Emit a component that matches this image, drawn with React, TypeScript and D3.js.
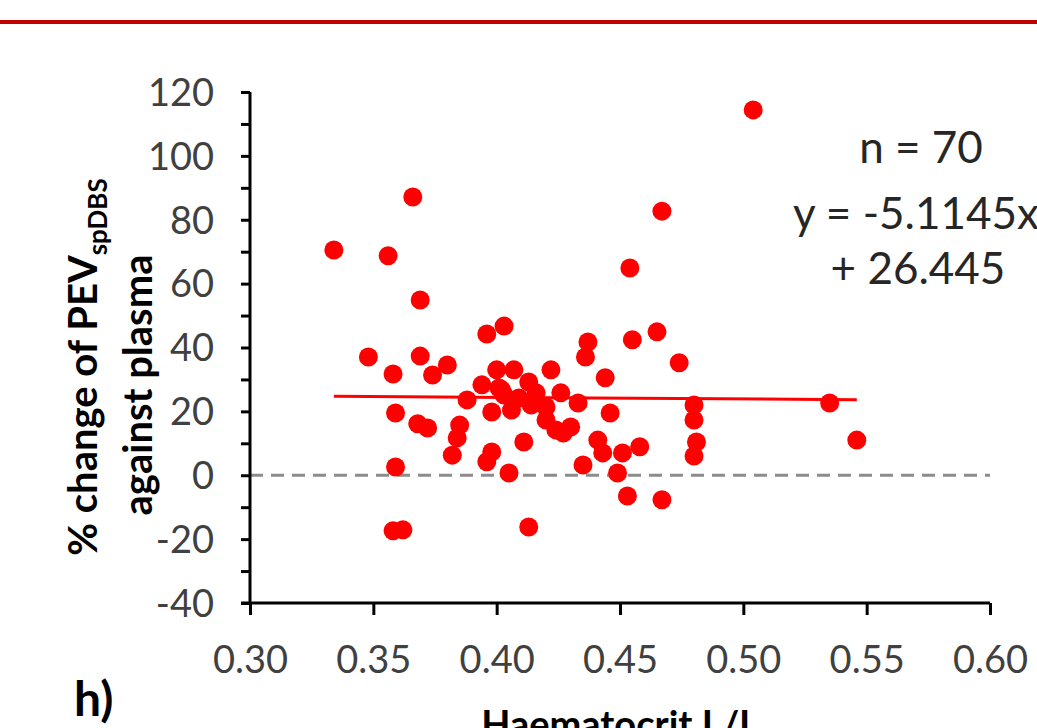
import { useEffect, useRef } from "react";
import * as d3 from "d3";

// haematocrit (L/L) for each sample
const hct = [
  0.334, 0.356, 0.366, 0.369, 0.348, 0.369, 0.380, 0.374, 0.358, 0.359,
  0.368, 0.372, 0.359, 0.358, 0.362, 0.388, 0.394, 0.396, 0.403, 0.385,
  0.384, 0.382, 0.396, 0.398, 0.398, 0.400, 0.407, 0.402, 0.406, 0.405,
  0.413, 0.411, 0.413, 0.416, 0.420, 0.422, 0.420, 0.426, 0.433, 0.430,
  0.427, 0.435, 0.437, 0.436, 0.444, 0.446, 0.441, 0.443, 0.451, 0.458,
  0.449, 0.453, 0.454, 0.455, 0.465, 0.467, 0.467, 0.474, 0.480, 0.480,
  0.481, 0.480, 0.504, 0.535, 0.546, 0.401, 0.409, 0.414, 0.424, 0.403,
];
// % change of PEV spDBS against plasma
const pctChange = [
  70.5, 68.7, 87.1, 54.9, 37.0, 37.3, 34.5, 31.4, 31.7, 19.5,
  16.1, 14.8, 2.6, -17.4, -17.1, 23.6, 28.3, 44.2, 46.7, 15.7,
  11.7, 6.3, 4.2, 7.3, 19.8, 33.0, 33.0, 26.7, 20.4, 0.7,
  29.2, 10.4, -16.2, 25.8, 17.3, 33.0, 21.4, 25.8, 22.6, 15.1,
  13.2, 3.2, 41.7, 37.0, 30.5, 19.5, 11.0, 7.0, 7.0, 8.9,
  0.7, -6.5, 64.9, 42.4, 44.9, 82.7, -7.7, 35.2, 22.0, 17.3,
  10.4, 6.0, 114.4, 22.6, 11.0, 27.3, 24.2, 22.0, 14.2, 25.1,
];
const xTicks = [0.3, 0.35, 0.4, 0.45, 0.5, 0.55, 0.6];
const yTicks = [-40, -20, 0, 20, 40, 60, 80, 100, 120];
const slope = -5.1145;
const intercept = 26.445;
const annotation = ["n = 70", "y = -5.1145x", "+ 26.445"];

export default function App() {
  const ref = useRef<SVGSVGElement>(null);

  useEffect(() => {
    const svg = d3.select(ref.current);
    svg.selectAll("*").remove();

    const font = "Lato, 'Open Sans', sans-serif";
    const x = d3.scaleLinear().domain([0.3, 0.6]).range([250, 990]);
    const y = d3.scaleLinear().domain([-40, 120]).range([603, 92]);

    // red rule at the top of the panel
    svg.append("rect")
      .attr("x", 0).attr("y", 20).attr("width", 1037).attr("height", 4)
      .attr("fill", "#c00000");

    // zero reference
    svg.append("line")
      .attr("x1", x(0.3)).attr("x2", x(0.6))
      .attr("y1", y(0)).attr("y2", y(0))
      .attr("stroke", "#8c8c8c").attr("stroke-width", 3)
      .attr("stroke-dasharray", "13,8");

    // y axis: minor ticks every 10, labels every 20
    const yAxis = d3.axisLeft(y)
      .tickValues(d3.range(-40, 121, 10))
      .tickSize(9)
      .tickFormat((d) => (yTicks.includes(+d) ? String(d) : ""));
    const gy = svg.append("g").attr("transform", `translate(${x(0.3)},0)`).call(yAxis);
    gy.select(".domain").attr("stroke", "#000").attr("stroke-width", 3)
      .attr("d", `M0,${y(120)}V${y(-40)}`);
    gy.selectAll(".tick line").attr("stroke", "#000").attr("stroke-width", 3);
    gy.selectAll(".tick text")
      .attr("x", -36).attr("dy", "0.35em")
      .attr("fill", "#404040").style("font-family", font).style("font-size", "38px");

    const xAxis = d3.axisBottom(x).tickValues(xTicks).tickSize(12)
      .tickFormat((d) => d3.format(".2f")(+d));
    const gx = svg.append("g").attr("transform", `translate(0,${y(-40)})`).call(xAxis);
    gx.select(".domain").attr("stroke", "#000").attr("stroke-width", 3)
      .attr("d", `M${x(0.3) - 9},0H${x(0.6)}`);
    gx.selectAll(".tick line").attr("stroke", "#000").attr("stroke-width", 3);
    gx.selectAll(".tick text")
      .attr("y", 57).attr("dy", "0.35em")
      .attr("fill", "#404040").style("font-family", font).style("font-size", "38px");

    // points
    svg.append("g").selectAll("circle")
      .data(hct)
      .enter()
      .append("circle")
      .attr("cx", (d) => x(d))
      .attr("cy", (d, i) => y(pctChange[i]))
      .attr("r", 9.5)
      .attr("fill", "#ff0000");

    // linear trend line
    const x0 = d3.min(hct) as number;
    const x1 = d3.max(hct) as number;
    svg.append("line")
      .attr("x1", x(x0)).attr("x2", x(x1))
      .attr("y1", y(slope * x0 + intercept)).attr("y2", y(slope * x1 + intercept))
      .attr("stroke", "#ff0000").attr("stroke-width", 3);

    // annotation text
    const ann = svg.append("text")
      .attr("fill", "#262626").style("font-family", font).style("font-size", "44px");
    ann.append("tspan").attr("x", 921).attr("y", 163).attr("text-anchor", "middle").text(annotation[0]);
    ann.append("tspan").attr("x", 793).attr("y", 229).text(annotation[1]);
    ann.append("tspan").attr("x", 918).attr("y", 284).attr("text-anchor", "middle").text(annotation[2]);

    // y title
    const yt = svg.append("text")
      .attr("transform", "translate(97,367) rotate(-90)")
      .attr("text-anchor", "middle")
      .attr("fill", "#000").style("font-family", font)
      .style("font-size", "40px").style("font-weight", "bold");
    yt.append("tspan").text("% change of PEV");
    yt.append("tspan").attr("dy", 10).style("font-size", "26px").text("spDBS");
    svg.append("text")
      .attr("transform", "translate(152,385) rotate(-90)")
      .attr("text-anchor", "middle")
      .attr("fill", "#000").style("font-family", font)
      .style("font-size", "40px").style("font-weight", "bold")
      .text("against plasma");

    svg.append("text")
      .attr("x", 620).attr("y", 738).attr("text-anchor", "middle")
      .attr("fill", "#000").style("font-family", font)
      .style("font-size", "38px").style("font-weight", "bold")
      .text("Haematocrit L/L");

    svg.append("text")
      .attr("x", 74).attr("y", 716)
      .attr("fill", "#000").style("font-family", font)
      .style("font-size", "48px").style("font-weight", "bold")
      .text("h)");
  }, []);

  return (
    <div style={{ position: "absolute", left: 0, top: 0 }}>
      <svg ref={ref} width={1037} height={728} style={{ display: "block", background: "#fff" }}></svg>
    </div>
  );
}
